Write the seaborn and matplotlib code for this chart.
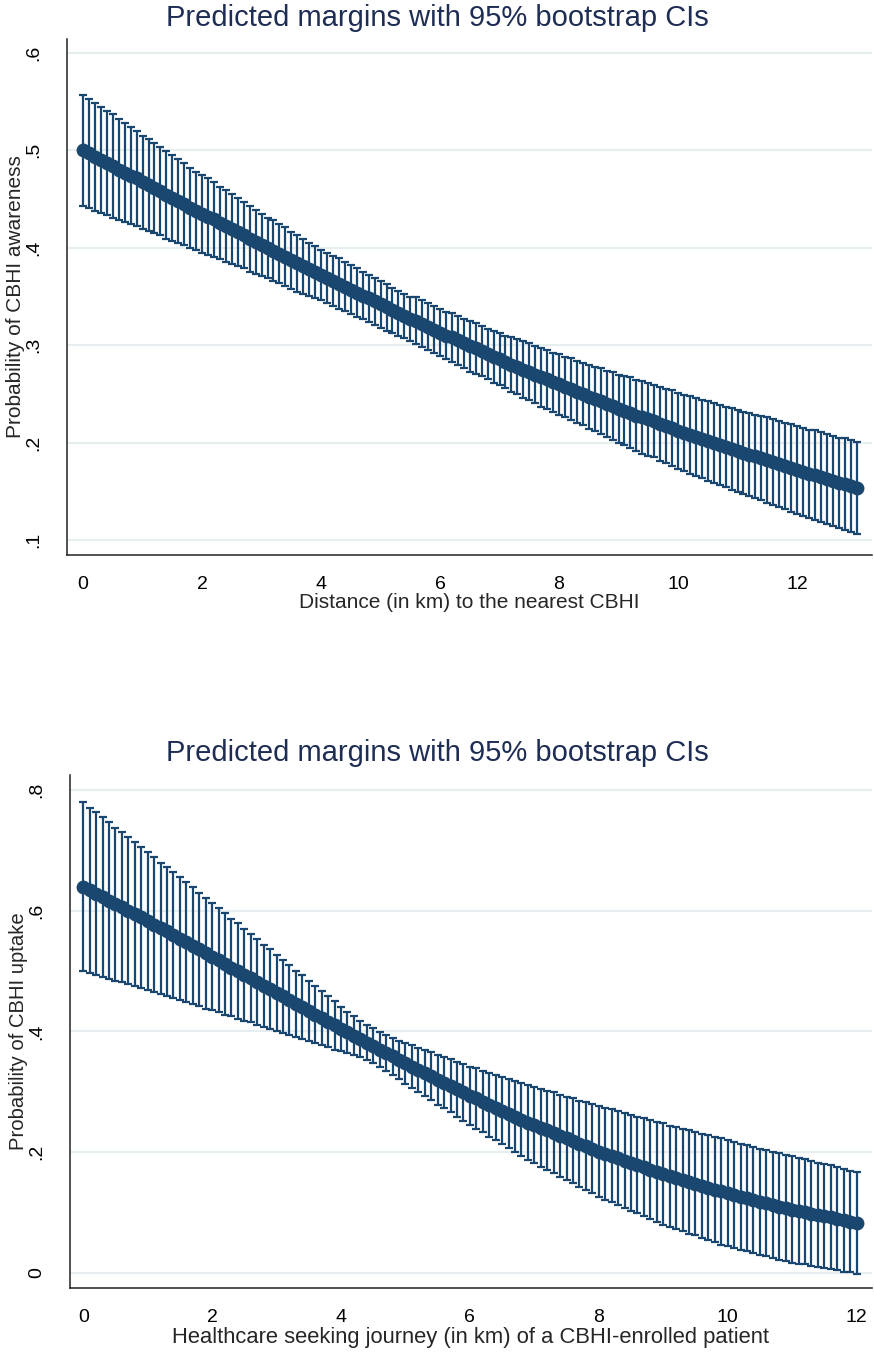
import numpy as np
import pandas as pd
import matplotlib
matplotlib.use("Agg")
import matplotlib.pyplot as plt
import seaborn as sns

# ---------------------------------------------
# Data: predicted margins with 95% bootstrap CIs
# (evaluated at 0(0.1)13 km and 0(0.1)12 km)
# ---------------------------------------------
aware_dist = np.round(np.arange(0, 13.01, 0.1), 1)
aware_margin = [
    .500, .497, .493, .490, .487, .484, .480, .477, .474, .471,
    .467, .464, .461, .458, .454, .451, .448, .445, .441, .438,
    .435, .432, .429, .425, .422, .419, .416, .413, .409, .406,
    .403, .400, .397, .394, .391, .387, .384, .381, .378, .375,
    .372, .369, .366, .363, .360, .357, .354, .351, .348, .345,
    .342, .339, .336, .333, .330, .327, .325, .322, .319, .316,
    .313, .310, .308, .305, .302, .299, .297, .294, .291, .288,
    .286, .283, .280, .278, .275, .273, .270, .267, .265, .262,
    .260, .257, .255, .252, .250, .247, .245, .243, .240, .238,
    .235, .233, .231, .228, .226, .224, .222, .219, .217, .215,
    .212, .210, .208, .206, .204, .202, .200, .198, .196, .194,
    .192, .190, .188, .186, .184, .182, .180, .178, .176, .174,
    .172, .170, .168, .167, .165, .163, .161, .159, .158, .156, .154,
]
# half-width of the 95% CI
aware_ci = [
    .057, .056, .055, .054, .053, .053, .052, .051, .050, .049,
    .048, .047, .046, .045, .045, .044, .043, .042, .041, .040,
    .040, .039, .038, .037, .037, .036, .035, .034, .034, .033,
    .032, .031, .031, .030, .030, .029, .029, .028, .027, .027,
    .026, .026, .026, .026, .025, .025, .025, .024, .024, .024,
    .024, .024, .023, .023, .023, .023, .024, .024, .024, .024,
    .024, .024, .025, .025, .025, .026, .026, .026, .026, .027,
    .027, .027, .028, .028, .029, .029, .029, .030, .030, .030,
    .031, .031, .032, .032, .032, .033, .033, .034, .034, .035,
    .035, .035, .036, .036, .037, .037, .037, .038, .038, .039,
    .039, .039, .040, .040, .040, .041, .041, .041, .041, .042,
    .042, .042, .043, .043, .043, .044, .044, .044, .044, .045,
    .045, .045, .045, .046, .046, .046, .046, .046, .047, .047, .047,
]

uptake_dist = np.round(np.arange(0, 12.01, 0.1), 1)
uptake_margin = [
    .640, .634, .628, .623, .617, .611, .606, .600, .595, .589,
    .583, .577, .571, .566, .560, .554, .548, .542, .536, .530,
    .524, .518, .512, .506, .500, .494, .488, .482, .476, .470,
    .464, .458, .452, .446, .440, .434, .428, .422, .416, .410,
    .404, .399, .393, .387, .381, .376, .370, .364, .359, .353,
    .347, .342, .336, .331, .326, .320, .315, .310, .304, .299,
    .293, .289, .284, .279, .274, .269, .264, .259, .254, .249,
    .245, .240, .236, .232, .227, .223, .219, .214, .210, .206,
    .201, .197, .194, .190, .186, .182, .179, .175, .171, .167,
    .164, .160, .157, .154, .151, .148, .144, .141, .138, .135,
    .132, .129, .126, .124, .121, .118, .116, .113, .110, .108,
    .105, .103, .101, .098, .096, .094, .092, .090, .087, .085,
    .083,
]
uptake_ci = [
    .140, .137, .135, .132, .130, .127, .124, .122, .119, .117,
    .114, .112, .109, .107, .104, .102, .099, .097, .094, .092,
    .089, .086, .084, .081, .079, .076, .073, .071, .068, .066,
    .063, .060, .058, .055, .053, .050, .047, .045, .042, .040,
    .037, .034, .032, .030, .029, .029, .029, .030, .031, .032,
    .034, .035, .037, .038, .040, .041, .042, .044, .045, .047,
    .048, .050, .051, .053, .054, .056, .057, .059, .060, .062,
    .063, .064, .065, .067, .068, .069, .070, .071, .073, .074,
    .075, .076, .077, .078, .079, .080, .080, .081, .082, .083,
    .084, .084, .085, .085, .086, .086, .086, .087, .087, .088,
    .088, .088, .088, .088, .088, .088, .088, .088, .088, .088,
    .088, .088, .087, .087, .086, .086, .086, .085, .085, .084,
    .084,
]

TITLE = "Predicted margins with 95% bootstrap CIs"

top_xticks = [0, 2, 4, 6, 8, 10, 12]
top_yticks = [.1, .2, .3, .4, .5, .6]
top_ylabels = [".1", ".2", ".3", ".4", ".5", ".6"]

bot_xticks = [0, 2, 4, 6, 8, 10, 12]
bot_yticks = [0, .2, .4, .6, .8]
bot_ylabels = ["0", ".2", ".4", ".6", ".8"]

# ---------------------------------------------
# Style (Stata-like)
# ---------------------------------------------
sns.set_style("white")
plt.rcParams["font.family"] = ["Liberation Sans", "DejaVu Sans"]

NAVY = "#1a476f"
GRID = "#e6eef0"
TITLE_COLOR = "#1e2d53"

W, H = 874, 1353
fig = plt.figure(figsize=(W / 100, H / 100), dpi=100)


def px_axes(left, top, right, bottom):
    return fig.add_axes([left / W, 1 - bottom / H, (right - left) / W, (bottom - top) / H])


def draw_panel(ax, dist, margin, ci, xticks, yticks, ylabels, xlim, ylim,
               xlabel, ylabel, xlab_px, lab_size):
    df = pd.DataFrame({"dist": dist, "margin": margin, "ci": ci})
    ax.errorbar(df["dist"], df["margin"], yerr=df["ci"], fmt="none",
                ecolor=NAVY, elinewidth=1.6, capsize=3.2, capthick=1.6, zorder=2)
    sns.lineplot(data=df, x="dist", y="margin", ax=ax, color=NAVY,
                 linewidth=8, marker="o", markersize=10, markeredgewidth=0,
                 zorder=3)
    ax.set_xlim(*xlim)
    ax.set_ylim(*ylim)
    ax.set_xticks(xticks)
    ax.set_xticklabels([str(t) for t in xticks], fontsize=14)
    ax.set_yticks(yticks)
    ax.set_yticklabels(ylabels, fontsize=14, rotation=90, va="center")
    for y in yticks:
        ax.axhline(y, color=GRID, linewidth=1.6, zorder=1)
    ax.grid(False)
    sns.despine(ax=ax)
    for side in ["left", "bottom"]:
        ax.spines[side].set_color("#222222")
        ax.spines[side].set_linewidth(1.1)
    ax.tick_params(axis="both", direction="out", length=7, width=1.1,
                   color="#222222", labelcolor="black")
    ax.tick_params(axis="x", pad=8)
    ax.tick_params(axis="y", pad=11)
    height = ax.get_position().height * H
    width = ax.get_position().width * W
    ax.set_xlabel(xlabel, fontsize=lab_size[0], va="center")
    ax.set_ylabel(ylabel, fontsize=lab_size[1], va="center")
    ax.xaxis.set_label_coords(0.5, -xlab_px / height)
    ax.yaxis.set_label_coords(-51 / width, 0.5)


# ---------------------------------------------
# Top panel: awareness
# ---------------------------------------------
ax1 = px_axes(67, 39, 872, 555)
draw_panel(ax1, aware_dist, aware_margin, aware_ci, top_xticks, top_yticks, top_ylabels,
           (-0.27, 13.26), (0.085, 0.614),
           "Distance (in km) to the nearest CBHI", "Probability of CBHI awareness",
           48, (15, 15))
fig.text(0.5, 1 - 18 / H, TITLE, ha="center", va="center", fontsize=21, color=TITLE_COLOR)

# ---------------------------------------------
# Bottom panel: uptake
# ---------------------------------------------
ax2 = px_axes(70, 775, 872, 1288)
draw_panel(ax2, uptake_dist, uptake_margin, uptake_ci, bot_xticks, bot_yticks, bot_ylabels,
           (-0.206, 12.24), (-0.025, 0.825),
           "Healthcare seeking journey (in km) of a CBHI-enrolled patient", "Probability of CBHI uptake",
           50, (15.8, 14.6))
fig.text(0.5, 1 - 753 / H, TITLE, ha="center", va="center", fontsize=21, color=TITLE_COLOR)

fig.savefig("out.png", dpi=100)
